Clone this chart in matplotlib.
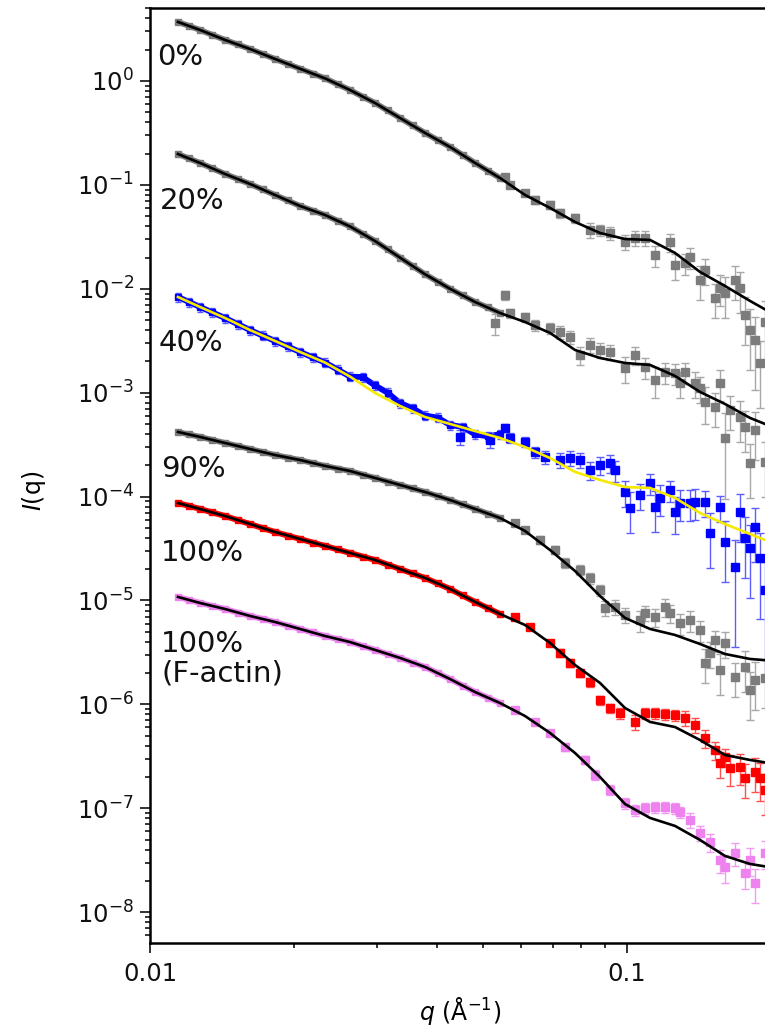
import numpy as np
import matplotlib
matplotlib.use('Agg')
import matplotlib.pyplot as plt
from matplotlib.ticker import FixedLocator, NullFormatter, LogLocator, FixedFormatter

plt.rcParams['font.family'] = ['DejaVu Sans']
plt.rcParams['mathtext.fontset'] = 'dejavusans'

# ---------------- data (q in 1/A, intensities as log10 I) ----------------
q_fit = [0.011447, 0.012732, 0.014366, 0.016210, 0.018291, 0.020639, 0.023288, 0.026277,
         0.029650, 0.033456, 0.037750, 0.042596, 0.048063, 0.054233, 0.061194, 0.069048,
         0.077911, 0.087911, 0.099195, 0.111927, 0.126294, 0.142505, 0.160796, 0.181436, 0.204724]

fit_0 = [0.568, 0.491, 0.395, 0.308, 0.212, 0.118, 0.025, -0.087, -0.212, -0.356, -0.500, -0.635,
         -0.789, -0.934, -1.097, -1.222, -1.357, -1.463, -1.521, -1.530, -1.655, -1.838, -1.973,
         -2.117, -2.252]
fit_20 = [-0.703, -0.789, -0.895, -0.991, -1.097, -1.203, -1.290, -1.400, -1.540, -1.700, -1.860,
          -2.000, -2.127, -2.233, -2.320, -2.425, -2.589, -2.666, -2.714, -2.733, -2.839, -2.993,
          -3.109, -3.243, -3.340]
fit_40 = [-2.079, -2.175, -2.281, -2.397, -2.502, -2.608, -2.710, -2.845, -3.003, -3.128, -3.234,
          -3.301, -3.369, -3.436, -3.523, -3.629, -3.763, -3.840, -3.908, -3.917, -4.013, -4.158,
          -4.264, -4.360, -4.456]
fit_90 = [-3.378, -3.426, -3.484, -3.542, -3.600, -3.648, -3.705, -3.754, -3.821, -3.888, -3.956,
          -4.033, -4.119, -4.206, -4.331, -4.514, -4.716, -4.957, -5.168, -5.274, -5.332, -5.419,
          -5.515, -5.563, -5.582]
fit_100 = [-4.062, -4.119, -4.187, -4.264, -4.341, -4.408, -4.475, -4.543, -4.610, -4.697, -4.783,
           -4.889, -5.014, -5.130, -5.236, -5.409, -5.621, -5.794, -6.035, -6.169, -6.218, -6.343,
           -6.487, -6.535, -6.574]
fit_fa = [-4.966, -5.024, -5.082, -5.149, -5.207, -5.274, -5.342, -5.400, -5.476, -5.553, -5.640,
          -5.756, -5.881, -5.987, -6.112, -6.275, -6.468, -6.699, -6.959, -7.093, -7.170, -7.305,
          -7.459, -7.536, -7.575]

q_low = [0.011447, 0.012075, 0.012732, 0.013524, 0.014366, 0.015260, 0.016210, 0.017219, 0.018291,
         0.019429, 0.020639, 0.021923, 0.023288, 0.024737, 0.026277, 0.027912, 0.029650, 0.031495,
         0.033456, 0.035538, 0.037750, 0.040100, 0.042596, 0.045247, 0.048063, 0.051055, 0.054233]

low_0 = [0.568, 0.530, 0.491, 0.443, 0.395, 0.352, 0.308, 0.260, 0.212, 0.165, 0.118, 0.072, 0.025,
         -0.031, -0.087, -0.150, -0.212, -0.284, -0.356, -0.428, -0.500, -0.568, -0.635, -0.712,
         -0.789, -0.862, -0.934]
low_20 = [-0.703, -0.746, -0.789, -0.842, -0.895, -0.943, -0.991, -1.044, -1.097, -1.150, -1.203,
          -1.247, -1.290, -1.345, -1.400, -1.470, -1.540, -1.620, -1.700, -1.780, -1.860, -1.930,
          -2.000, -2.064, -2.127, -2.180, -2.233]
low_40 = [-2.079, -2.127, -2.175, -2.228, -2.281, -2.339, -2.397, -2.450, -2.502, -2.555, -2.608,
          -2.659, -2.710, -2.777, -2.845, -2.85, -2.93, -3.00, -3.10, -3.15, -3.22, -3.24, -3.31,
          -3.33, -3.40, -3.42, -3.40]
low_90 = [-3.378, -3.402, -3.426, -3.455, -3.484, -3.513, -3.542, -3.571, -3.600, -3.624, -3.648,
          -3.677, -3.705, -3.730, -3.754, -3.788, -3.821, -3.855, -3.888, -3.922, -3.956, -3.995,
          -4.033, -4.076, -4.119, -4.163, -4.206]
low_100 = [-4.062, -4.090, -4.119, -4.153, -4.187, -4.226, -4.264, -4.303, -4.341, -4.375, -4.408,
           -4.442, -4.475, -4.509, -4.543, -4.577, -4.610, -4.654, -4.697, -4.740, -4.783, -4.836,
           -4.889, -4.952, -5.014, -5.072, -5.130]
low_fa = [-4.966, -4.995, -5.024, -5.053, -5.082, -5.116, -5.149, -5.178, -5.207, -5.241, -5.274,
          -5.308, -5.342, -5.371, -5.400, -5.438, -5.476, -5.515, -5.553, -5.597, -5.640, -5.698,
          -5.756, -5.819, -5.881, -5.934, -5.987]

q_hi_0 = [0.05556, 0.05692, 0.06119, 0.06422, 0.06904, 0.07245, 0.07789, 0.08374, 0.08788, 0.09223,
          0.09918, 0.10409, 0.10924, 0.11464, 0.12325, 0.12626, 0.13250, 0.13574, 0.14245, 0.14593,
          0.15314, 0.15688, 0.16071, 0.16866, 0.17278, 0.17700, 0.18132, 0.18575, 0.19028, 0.19493]
hi_0 = [-0.924, -1.001, -1.078, -1.145, -1.193, -1.270, -1.318, -1.434, -1.434, -1.463, -1.550,
        -1.511, -1.511, -1.675, -1.550, -1.771, -1.752, -1.694, -1.915, -1.819, -2.089, -1.992,
        -2.040, -1.915, -1.992, -2.252, -2.397, -2.493, -2.714, -2.320]
err_0 = [0.06, 0.06, 0.06, 0.09, 0.09, 0.10, 0.10, 0.16, 0.12, 0.14, 0.16, 0.16, 0.16, 0.23, 0.20,
         0.28, 0.23, 0.23, 0.36, 0.28, 0.36, 0.33, 0.43, 0.36, 0.43, 0.49, 0.59, 0.67, 0.63, 0.59]

q_hi_20 = [0.05295, 0.05556, 0.05692, 0.06119, 0.06422, 0.06904, 0.07245, 0.07604, 0.07980, 0.08374,
           0.08788, 0.09223, 0.09918, 0.10409, 0.10924, 0.11464, 0.12031, 0.12626, 0.12934, 0.13250,
           0.13905, 0.14245, 0.14593, 0.15314, 0.15688, 0.16071, 0.16464, 0.17278, 0.17700, 0.18132,
           0.18575, 0.19493]
hi_20 = [-2.329, -2.060, -2.233, -2.271, -2.348, -2.377, -2.416, -2.464, -2.637, -2.541, -2.589,
         -2.608, -2.762, -2.637, -2.753, -2.878, -2.801, -2.810, -2.907, -2.801, -2.907, -2.955,
         -3.090, -3.138, -2.907, -3.436, -3.167, -3.234, -3.330, -3.677, -3.359, -3.667]
err_20 = [0.23, 0.10, 0.10, 0.10, 0.12, 0.12, 0.14, 0.14, 0.20, 0.16, 0.16, 0.16, 0.28, 0.20, 0.23,
          0.33, 0.23, 0.23, 0.28, 0.23, 0.28, 0.28, 0.39, 0.36, 0.33, 0.74, 0.36, 0.43, 0.43, 0.54,
          0.49, 0.54]

q_hi_40 = [0.04470, 0.05168, 0.05556, 0.05692, 0.06119, 0.06422, 0.06739, 0.07245, 0.07604, 0.07980,
           0.08374, 0.08788, 0.09223, 0.09448, 0.09918, 0.10161, 0.10664, 0.11191, 0.11464, 0.11744,
           0.12325, 0.12626, 0.12934, 0.13574, 0.13905, 0.14593, 0.14949, 0.15688, 0.16071, 0.16866,
           0.17278, 0.17700, 0.18132, 0.18575, 0.19028, 0.19493]
hi_40 = [-3.426, -3.455, -3.340, -3.436, -3.474, -3.571, -3.619, -3.648, -3.628, -3.648, -3.744,
         -3.696, -3.677, -3.744, -3.956, -4.110, -3.985, -3.869, -4.100, -4.013, -3.937, -4.148,
         -4.062, -4.062, -4.052, -4.052, -4.350, -4.100, -4.437, -4.678, -4.148, -4.398, -4.494,
         -4.293, -4.591, -4.899]
err_40 = [0.16, 0.16, 0.085, 0.105, 0.105, 0.125, 0.144, 0.163, 0.163, 0.163, 0.20, 0.20, 0.20,
          0.23, 0.28, 0.43, 0.28, 0.23, 0.43, 0.33, 0.23, 0.39, 0.33, 0.33, 0.33, 0.28, 0.54, 0.28,
          0.59, 0.83, 0.49, 0.59, 0.67, 0.54, 0.74, 0.86]

q_hi_90 = [0.05831, 0.06119, 0.06579, 0.07073, 0.07422, 0.07980, 0.08374, 0.08788, 0.09003, 0.09448,
           0.09918, 0.10664, 0.10924, 0.11464, 0.12031, 0.12325, 0.12934, 0.13574, 0.14245, 0.14593,
           0.14949, 0.15314, 0.15688, 0.16071, 0.16866, 0.17700, 0.18132, 0.18575, 0.19493]
hi_90 = [-4.254, -4.321, -4.418, -4.514, -4.639, -4.706, -4.783, -4.899, -5.072, -5.063, -5.140,
         -5.188, -5.120, -5.159, -5.063, -5.120, -5.217, -5.188, -5.284, -5.602, -5.505, -5.380,
         -5.669, -5.409, -5.736, -5.640, -5.861, -5.765, -5.746]
err_90 = [0.065, 0.065, 0.085, 0.085, 0.105, 0.105, 0.125, 0.125, 0.163, 0.163, 0.163, 0.233, 0.163,
          0.20, 0.20, 0.20, 0.233, 0.233, 0.233, 0.36, 0.28, 0.233, 0.43, 0.28, 0.36, 0.43, 0.49,
          0.49, 0.49]

q_hi_100 = [0.05831, 0.06269, 0.06904, 0.07245, 0.07604, 0.07980, 0.08374, 0.08788, 0.09223,
            0.09679, 0.10409, 0.10924, 0.11464, 0.12031, 0.12626, 0.13250, 0.13905, 0.14593,
            0.15314, 0.15688, 0.16071, 0.16464, 0.17278, 0.17700, 0.18575, 0.19028, 0.19493]
hi_100 = [-5.159, -5.255, -5.409, -5.505, -5.602, -5.698, -5.785, -5.958, -6.035, -6.083, -6.169,
          -6.083, -6.083, -6.092, -6.102, -6.131, -6.198, -6.323, -6.439, -6.564, -6.506, -6.612,
          -6.603, -6.708, -6.651, -6.708, -6.824]
err_100 = [0.065, 0.065, 0.065, 0.085, 0.085, 0.085, 0.105, 0.105, 0.105, 0.125, 0.163, 0.125,
           0.125, 0.125, 0.125, 0.163, 0.163, 0.20, 0.20, 0.28, 0.20, 0.33, 0.33, 0.36, 0.36, 0.40,
           0.43]

q_hi_fa = [0.05831, 0.06422, 0.06904, 0.07422, 0.08174, 0.08579, 0.09223, 0.09918, 0.10409, 0.10924,
           0.11464, 0.12031, 0.12626, 0.12934, 0.13574, 0.14245, 0.14949, 0.15688, 0.16071, 0.16866,
           0.17700, 0.18132, 0.18575, 0.19493]
hi_fa = [-6.054, -6.169, -6.275, -6.410, -6.535, -6.679, -6.824, -6.949, -7.016, -6.997, -6.988,
         -6.988, -6.997, -7.036, -7.113, -7.238, -7.324, -7.498, -7.565, -7.430, -7.622, -7.498,
         -7.719, -7.430]
err_fa = [0.065, 0.065, 0.065, 0.085, 0.085, 0.105, 0.105, 0.125, 0.125, 0.125, 0.125, 0.125, 0.125,
          0.125, 0.163, 0.163, 0.20, 0.25, 0.30, 0.25, 0.30, 0.30, 0.36, 0.30]

labels = ["0%", "20%", "40%", "90%", "100%", "100%\n(F-actin)"]
x_ticks = [0.01, 0.1]
x_tick_labels = ["0.01", "0.1"]
y_decades = [-8, -7, -6, -5, -4, -3, -2, -1, 0]

# ---------------- styling ----------------
series = [
    dict(low=low_0, qh=q_hi_0, hi=hi_0, err=err_0, fit=fit_0, c='#7c7c7c', ec='#a8a8a8', fc='black', lerr=0.04),
    dict(low=low_20, qh=q_hi_20, hi=hi_20, err=err_20, fit=fit_20, c='#7c7c7c', ec='#a8a8a8', fc='black', lerr=0.04),
    dict(low=low_40, qh=q_hi_40, hi=hi_40, err=err_40, fit=fit_40, c='#0000ff', ec='#5c5cff', fc='#f5e900', lerr=0.10),
    dict(low=low_90, qh=q_hi_90, hi=hi_90, err=err_90, fit=fit_90, c='#7c7c7c', ec='#a8a8a8', fc='black', lerr=0.04),
    dict(low=low_100, qh=q_hi_100, hi=hi_100, err=err_100, fit=fit_100, c='#ff0000', ec='#ff5050', fc='black', lerr=0.04),
    dict(low=low_fa, qh=q_hi_fa, hi=hi_fa, err=err_fa, fit=fit_fa, c='#ee82ee', ec='#f29af2', fc='black', lerr=0.04),
]
label_pos = [(157, 57), (160, 201), (159, 343), (161, 469), (161, 553), (161, 660)]

W, H = 765, 1026
fig = plt.figure(figsize=(W / 100, H / 100), dpi=100)
ax_left, ax_top, ax_bottom = 150, 8, 943
ax_right = 150 + 476.7 * np.log10(20)
ax = fig.add_axes([ax_left / W, (H - ax_bottom) / H, (ax_right - ax_left) / W, (ax_bottom - ax_top) / H])
ax.set_xscale('log')
ax.set_yscale('log')
ax.set_xlim(0.01, 0.2)
ax.set_ylim(5.05e-9, 5.04)

ql = np.array(q_low)
for s in series:
    Il = 10 ** np.array(s['low'])
    ax.plot(ql, Il, '-', color=s['c'], lw=4.2, zorder=2, solid_capstyle='butt')
    ax.errorbar(ql, Il, yerr=Il * s['lerr'], fmt='s', color=s['c'], ms=5, mec=s['c'],
                ecolor=s['ec'], elinewidth=1.0, capsize=2.5, capthick=1.0, zorder=2)
    qh = np.array(s['qh'])
    Ih = 10 ** np.array(s['hi'])
    ax.errorbar(qh, Ih, yerr=Ih * np.array(s['err']), fmt='s', color=s['c'], ms=6, mec=s['c'],
                ecolor=s['ec'], elinewidth=1.0, capsize=3.2, capthick=1.0, zorder=2)
for s in series:
    ax.plot(q_fit, 10 ** np.array(s['fit']), '-', color=s['fc'], lw=1.9, zorder=3)

for txt, (px, py) in zip(labels, label_pos):
    va = 'center' if '\n' not in txt else 'top'
    yy = py if '\n' not in txt else 630
    fig.text(px / W, 1 - yy / H, txt, fontsize=21, ha='left', va=va, color='#111111',
             linespacing=1.05)

# axes styling
for side in ['top', 'left', 'bottom']:
    ax.spines[side].set_linewidth(1.8)
ax.spines['right'].set_visible(False)
ax.xaxis.set_major_locator(FixedLocator(x_ticks))
ax.xaxis.set_major_formatter(FixedFormatter(x_tick_labels))
ax.xaxis.set_minor_locator(FixedLocator([k * 0.01 for k in range(2, 10)]))
ax.xaxis.set_minor_formatter(NullFormatter())
ax.yaxis.set_major_locator(FixedLocator([10.0 ** d for d in y_decades]))
ax.yaxis.set_major_formatter(FixedFormatter([r'$\mathdefault{10^{%d}}$' % d for d in y_decades]))
ax.yaxis.set_minor_locator(LogLocator(base=10, subs=np.arange(2, 10), numticks=20))
ax.yaxis.set_minor_formatter(NullFormatter())
ax.tick_params(which='major', direction='out', length=7.5, width=1.2, labelsize=17.5, colors='#111111')
ax.tick_params(which='minor', direction='out', length=3.8, width=1.1)
ax.tick_params(axis='x', which='major', pad=6)
ax.tick_params(axis='y', which='major', pad=4)
ax.tick_params(top=False, right=False, which='both')

ax.set_xlabel(r'$q$ (Å$^{-1}$)', fontsize=17)
ax.xaxis.set_label_coords((460 - ax_left) / (ax_right - ax_left), -(1011 - ax_bottom) / (ax_bottom - ax_top))
ax.xaxis.label.set_va('center')
ax.set_ylabel(r'$I$(q)', fontsize=17)
ax.yaxis.set_label_coords(-(ax_left - 34) / (ax_right - ax_left), (ax_bottom - 491) / (ax_bottom - ax_top))
ax.yaxis.label.set_va('center')

fig.savefig('out.png', dpi=100)
